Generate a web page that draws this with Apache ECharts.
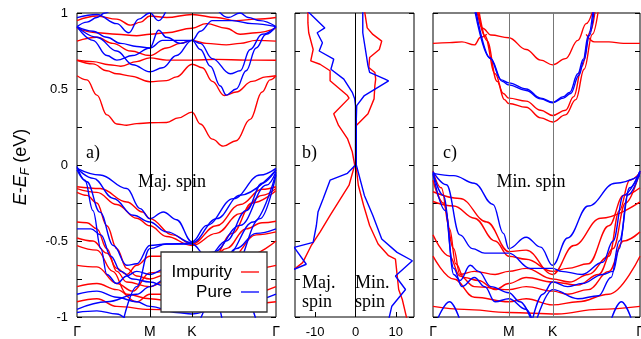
<!DOCTYPE html>
<html>
<head>
<meta charset="utf-8">
<script src="https://cdn.jsdelivr.net/npm/echarts@6/dist/echarts.min.js"></script>
<style>
  html, body {margin: 0; padding: 0; background: #fff;}
  #chart {width: 641px; height: 339px;}
</style>
</head>
<body>
<div id="chart"></div>
<script>
const kLabels = ['Γ', 'M', 'K', 'Γ'];
const kPos = [0, 0.366, 0.578, 1];
const dosTicks = [-10, 0, 10];

// panel a, majority spin, impurity (red)
const majImpurity = [
  [[0,0.587],[0.05,0.56],[0.1,0.46],[0.15,0.33],[0.2,0.27],[0.25,0.262],[0.3,0.272],[0.366,0.278],[0.45,0.28],[0.51,0.31],[0.578,0.348],[0.62,0.27],[0.68,0.17],[0.735,0.124],[0.8,0.16],[0.87,0.3],[0.93,0.48],[0.97,0.56],[1,0.587]],
  [[0,0.689],[0.08,0.665],[0.15,0.62],[0.2,0.6],[0.27,0.585],[0.366,0.548],[0.45,0.555],[0.5,0.58],[0.578,0.663],[0.63,0.64],[0.68,0.55],[0.74,0.457],[0.8,0.48],[0.88,0.55],[0.95,0.58],[1,0.587]],
  [[0,0.689],[0.08,0.68],[0.16,0.66],[0.22,0.65],[0.3,0.68],[0.366,0.705],[0.45,0.69],[0.578,0.69],[0.7,0.695],[0.85,0.69],[1,0.689]],
  [[0,0.815],[0.1,0.84],[0.18,0.8],[0.27,0.75],[0.366,0.72],[0.45,0.77],[0.52,0.8],[0.578,0.82],[0.65,0.8],[0.75,0.79],[0.82,0.8],[0.9,0.82],[1,0.815]],
  [[0,0.9],[0.1,0.87],[0.2,0.86],[0.3,0.85],[0.366,0.86],[0.45,0.87],[0.578,0.9],[0.65,0.93],[0.75,0.9],[0.82,0.86],[0.9,0.87],[1,0.9]],
  [[0,0.95],[0.1,0.98],[0.2,0.96],[0.27,0.92],[0.32,0.94],[0.366,0.98],[0.45,0.97],[0.578,0.99],[0.7,0.97],[0.8,0.95],[0.9,0.96],[1,0.97]],
  [[0,-0.143],[0.116,-0.155],[0.25,-0.243],[0.33,-0.309],[0.366,-0.353],[0.48,-0.46],[0.578,-0.52],[0.7,-0.4],[0.82,-0.26],[0.93,-0.16],[1,-0.143]],
  [[0,-0.155],[0.1,-0.18],[0.2,-0.26],[0.3,-0.35],[0.366,-0.4],[0.45,-0.47],[0.578,-0.53],[0.7,-0.45],[0.82,-0.32],[0.93,-0.2],[1,-0.155]],
  [[0,-0.18],[0.05,-0.2],[0.1,-0.25],[0.15,-0.4],[0.2,-0.55],[0.25,-0.68],[0.3,-0.73],[0.366,-0.75],[0.45,-0.72],[0.578,-0.64],[0.68,-0.62],[0.78,-0.45],[0.88,-0.25],[1,-0.17]],
  [[0,-0.375],[0.05,-0.38],[0.1,-0.42],[0.15,-0.55],[0.2,-0.7],[0.25,-0.77],[0.366,-0.8],[0.45,-0.76],[0.578,-0.72],[0.65,-0.68],[0.75,-0.55],[0.85,-0.42],[0.93,-0.38],[1,-0.37]],
  [[0,-0.48],[0.08,-0.5],[0.15,-0.58],[0.2,-0.68],[0.25,-0.72],[0.3,-0.66],[0.366,-0.6],[0.45,-0.6],[0.578,-0.62],[0.68,-0.7],[0.78,-0.6],[0.9,-0.46],[1,-0.44]],
  [[0,-0.53],[0.1,-0.56],[0.18,-0.7],[0.25,-0.85],[0.366,-0.88],[0.5,-0.9],[0.578,-0.9],[0.7,-0.8],[0.85,-0.6],[1,-0.5]],
  [[0,-0.9],[0.1,-0.88],[0.2,-0.93],[0.366,-0.95],[0.578,-0.96],[0.8,-0.92],[1,-0.9]],
  [[0,-0.66],[0.1,-0.67],[0.2,-0.78],[0.28,-0.83],[0.366,-0.71],[0.45,-0.7],[0.578,-0.68],[0.7,-0.82],[0.8,-0.78],[0.9,-0.68],[1,-0.66]],
  [[0,-0.8],[0.1,-0.78],[0.2,-0.82],[0.3,-0.9],[0.366,-0.85],[0.5,-0.85],[0.578,-0.86],[0.7,-0.88],[0.85,-0.85],[1,-0.8]]
];

// panel a, majority spin, pure (blue)
const majPure = [
  [[0,0.91],[0.08,0.82],[0.15,0.72],[0.2,0.69],[0.28,0.72],[0.366,0.77],[0.43,0.82],[0.5,0.82],[0.578,0.82],[0.62,0.76],[0.67,0.65],[0.72,0.52],[0.75,0.46],[0.8,0.5],[0.85,0.62],[0.9,0.77],[0.95,0.86],[1,0.91]],
  [[0,0.91],[0.1,0.84],[0.2,0.75],[0.28,0.66],[0.366,0.613],[0.43,0.64],[0.5,0.72],[0.578,0.82],[0.62,0.8],[0.68,0.7],[0.77,0.6],[0.82,0.62],[0.87,0.76],[0.93,0.86],[1,0.91]],
  [[0,0.91],[0.05,0.94],[0.1,0.97],[0.14,1.0],[0.18,1.03]],
  [[0,0.91],[0.08,0.88],[0.15,0.84],[0.22,0.8],[0.3,0.78],[0.366,0.77],[0.41,0.887],[0.45,0.84],[0.52,0.8],[0.578,0.82],[0.62,0.88],[0.68,0.95],[0.78,0.95],[0.88,0.93],[1,0.91]],
  [[0,0.97],[0.1,0.99],[0.2,0.93],[0.26,0.87],[0.31,0.96],[0.366,1.0],[0.41,0.95],[0.45,1.02]],
  [[0.7,1.03],[0.76,0.97],[0.82,1.0],[0.86,0.97],[0.92,0.95],[1,0.91]],
  [[0,-0.022],[0.116,-0.066],[0.25,-0.155],[0.317,-0.287],[0.366,-0.353],[0.434,-0.309],[0.5,-0.36],[0.578,-0.505],[0.652,-0.397],[0.786,-0.221],[0.92,-0.066],[1,-0.022]],
  [[0,-0.022],[0.082,-0.088],[0.183,-0.22],[0.283,-0.331],[0.366,-0.375],[0.45,-0.44],[0.578,-0.512],[0.702,-0.353],[0.82,-0.199],[1,-0.033]],
  [[0,-0.033],[0.05,-0.11],[0.115,-0.31],[0.183,-0.53],[0.25,-0.66],[0.3,-0.65],[0.366,-0.53],[0.45,-0.52],[0.578,-0.52],[0.65,-0.6],[0.75,-0.75],[0.85,-0.88],[0.9,-1.02]],
  [[0,-0.01],[0.04,-0.1],[0.08,-0.3],[0.12,-0.55],[0.15,-0.72],[0.2,-0.78],[0.25,-0.73],[0.3,-0.7],[0.366,-0.72],[0.45,-0.68],[0.578,-0.6],[0.66,-0.6],[0.75,-0.5],[0.85,-0.3],[0.93,-0.12],[1,-0.03]],
  [[0.45,-0.6],[0.5,-0.58],[0.578,-0.596],[0.685,-0.574],[0.82,-0.397],[0.953,-0.132],[1,-0.044]],
  [[0.45,-0.75],[0.6,-0.684],[0.752,-0.596],[0.886,-0.375],[1,-0.055]],
  [[0.618,-1.02],[0.786,-0.684],[0.92,-0.353],[1,-0.066]],
  [[0,-0.42],[0.07,-0.42],[0.12,-0.46],[0.17,-0.6],[0.22,-0.7],[0.28,-0.75],[0.366,-0.77],[0.45,-0.8],[0.578,-0.78],[0.7,-0.72],[0.8,-0.55],[0.9,-0.45],[1,-0.42]],
  [[0,-0.85],[0.1,-0.83],[0.2,-0.87],[0.3,-0.9],[0.366,-0.93],[0.5,-0.97],[0.578,-0.98],[0.7,-0.95],[0.85,-0.9],[1,-0.85]],
  [[0,-0.95],[0.15,-0.9],[0.3,-0.85],[0.366,-0.8],[0.45,-0.75],[0.578,-0.72],[0.65,-0.78],[0.7,-0.9],[0.73,-1.02]],
  [[0.233,-1.02],[0.3,-0.8],[0.366,-0.55],[0.45,-0.52],[0.578,-0.515]],
  [[0,-0.97],[0.1,-0.96],[0.2,-0.98],[0.25,-1.02]]
];

// panel b, DOS: [states, energy]
const dosMajImpurity = [[-11.8,1.02],[-11.8,0.935],[-11.6,0.87],[-10.5,0.76],[-11.1,0.685],[-8.8,0.663],[-6.3,0.62],[-6.3,0.554],[-2.0,0.457],[-1.6,0.44],[-5.4,0.337],[-4.2,0.26],[-2.0,0.174],[-0.8,0.087],[-0.2,0],[-1.6,-0.133],[-3.7,-0.221],[-6.3,-0.332],[-8.8,-0.442],[-11.0,-0.531],[-13.1,-0.642],[-15.2,-0.686],[-17,-0.72]];
const dosMajPure = [[-12.2,1.02],[-7.6,0.902],[-9.5,0.87],[-8.2,0.804],[-9.0,0.75],[-5.4,0.696],[-6.1,0.63],[-2.9,0.565],[-0.8,0.478],[-0.2,0.435],[0,0.391],[0,0],[-2.0,-0.055],[-6.3,-0.1],[-8.0,-0.221],[-9.3,-0.31],[-9.7,-0.398],[-10.5,-0.509],[-15.2,-0.542],[-12.2,-0.653],[-15.2,-0.686],[-17,-0.7]];
const dosMinImpurity = [[2.2,1.02],[2.9,0.902],[4.3,0.859],[6.5,0.815],[5.9,0.76],[3.5,0.707],[3.3,0.641],[4.8,0.609],[5.0,0.565],[4.8,0.522],[4.6,0.435],[3.1,0.337],[0.2,0.26],[0.1,0],[0.7,-0.133],[2.0,-0.265],[3.5,-0.398],[5.6,-0.52],[8.2,-0.597],[9.9,-0.619],[10.7,-0.819],[11.6,-0.885],[12.8,-1.02]];
const dosMinPure = [[1.8,1.02],[1.8,0.87],[3.1,0.652],[3.5,0.609],[7.3,0.565],[8.2,0.554],[2.2,0.457],[0.3,0.391],[0.2,0.304],[0.2,0],[2.2,-0.2],[4.3,-0.332],[6.5,-0.487],[10.3,-0.575],[14.1,-0.63],[9.9,-0.73],[12.4,-0.819],[9.0,-0.929],[8.2,-1.02]];

// panel c, minority spin, impurity (red)
const minImpurity = [
  [[0,0.8],[0.08,0.805],[0.14,0.81],[0.2,0.79],[0.23,0.84],[0.26,0.86]],
  [[0.21,1.03],[0.24,0.9],[0.28,0.855],[0.366,0.837],[0.45,0.76],[0.52,0.69],[0.578,0.659],[0.64,0.7],[0.7,0.82],[0.74,0.93],[0.775,1.03]],
  [[0.74,0.86],[0.78,0.81],[0.85,0.81],[0.92,0.8],[1,0.8]],
  [[0.215,1.03],[0.25,0.85],[0.3,0.6],[0.34,0.47],[0.366,0.44],[0.45,0.42],[0.52,0.36],[0.578,0.326],[0.64,0.36],[0.68,0.45],[0.72,0.65],[0.76,0.88],[0.785,1.03]],
  [[0.22,1.03],[0.26,0.82],[0.31,0.55],[0.345,0.43],[0.366,0.405],[0.45,0.38],[0.52,0.31],[0.578,0.283],[0.64,0.33],[0.69,0.43],[0.73,0.63],[0.77,0.86],[0.8,1.03]],
  [[0,-0.176],[0.13,-0.22],[0.26,-0.375],[0.366,-0.57],[0.45,-0.56],[0.578,-0.72],[0.68,-0.53],[0.81,-0.35],[1,-0.243]],
  [[0,-0.24],[0.1,-0.27],[0.2,-0.35],[0.3,-0.5],[0.366,-0.6],[0.45,-0.62],[0.578,-0.7],[0.65,-0.68],[0.75,-0.65],[0.85,-0.4],[0.92,-0.2],[1,-0.15]],
  [[0,-0.1],[0.05,-0.25],[0.1,-0.55],[0.13,-0.72],[0.2,-0.7],[0.3,-0.72],[0.366,-0.7],[0.45,-0.68],[0.578,-0.75],[0.66,-0.77],[0.75,-0.72],[0.85,-0.6],[0.9,-0.3],[0.95,-0.1],[1,-0.05]],
  [[0,-0.46],[0.08,-0.6],[0.13,-0.73],[0.2,-0.8],[0.366,-0.82],[0.45,-0.8],[0.578,-0.83],[0.65,-0.85],[0.75,-0.82],[0.85,-0.7],[0.92,-0.5],[1,-0.44]],
  [[0,-0.6],[0.1,-0.75],[0.2,-0.87],[0.366,-0.9],[0.45,-0.88],[0.578,-0.92],[0.7,-0.9],[0.85,-0.85],[1,-0.6]],
  [[0,-0.93],[0.15,-0.95],[0.366,-0.97],[0.6,-0.98],[0.8,-0.95],[1,-0.93]],
  [[0,-0.04],[0.04,-0.15],[0.08,-0.42],[0.11,-0.65],[0.15,-0.74],[0.22,-0.76],[0.3,-0.82],[0.366,-0.78],[0.45,-0.74],[0.578,-0.77],[0.7,-0.79],[0.8,-0.72],[0.87,-0.55],[0.93,-0.25],[1,-0.04]]
];

// panel c, minority spin, pure (blue)
const minPure = [
  [[0.2,1.03],[0.274,0.707],[0.33,0.56],[0.366,0.54],[0.45,0.5],[0.52,0.44],[0.578,0.413],[0.63,0.45],[0.66,0.478],[0.7,0.6],[0.726,0.696],[0.75,0.85],[0.774,1.03]],
  [[0.205,1.03],[0.278,0.7],[0.335,0.55],[0.366,0.527],[0.45,0.49],[0.52,0.435],[0.578,0.41],[0.63,0.44],[0.665,0.47],[0.705,0.59],[0.73,0.69],[0.755,0.85],[0.779,1.03]],
  [[0,-0.055],[0.1,-0.07],[0.2,-0.12],[0.29,-0.26],[0.34,-0.45],[0.366,-0.55],[0.45,-0.475],[0.52,-0.54],[0.578,-0.66],[0.65,-0.48],[0.75,-0.27],[0.88,-0.12],[1,-0.07]],
  [[0,-0.044],[0.065,-0.13],[0.13,-0.46],[0.19,-0.55],[0.25,-0.58],[0.366,-0.58],[0.47,-0.68],[0.578,-0.68],[0.62,-0.7],[0.72,-0.72],[0.82,-0.64],[0.87,-0.5],[0.92,-0.2],[1,-0.04]],
  [[0,-0.05],[0.05,-0.2],[0.1,-0.68],[0.14,-0.8],[0.2,-0.74],[0.25,-0.8],[0.3,-0.9],[0.366,-0.88],[0.45,-0.95],[0.48,-1.02]],
  [[0,-0.06],[0.06,-0.3],[0.1,-0.72],[0.13,-0.76],[0.18,-0.66],[0.22,-0.7],[0.28,-0.8],[0.366,-0.84],[0.42,-0.9],[0.475,-1.02]],
  [[0.48,-1.02],[0.53,-0.85],[0.578,-0.77],[0.65,-0.8],[0.72,-0.78],[0.82,-0.72],[0.87,-0.7],[0.9,-0.55],[0.94,-0.2],[1,-0.05]],
  [[0.5,-1.02],[0.578,-0.82],[0.7,-0.88],[0.8,-0.86],[0.86,-0.74],[0.9,-0.5],[0.95,-0.15],[1,-0.04]],
  [[0.02,-1.02],[0.08,-0.9],[0.13,-1.02]],
  [[0.86,-1.02],[0.91,-0.9],[0.96,-1.02]]
];

const red = '#ff0000';
const blue = '#0000ff';
const grids = [
  {left: 77, top: 13, width: 199, height: 304},
  {left: 295, top: 13, width: 119, height: 304},
  {left: 433, top: 13, width: 207, height: 304}
];

const chart = echarts.init(document.getElementById('chart'), null, {renderer: 'canvas'});

const yTickFmt = v => (Math.abs(v * 2 - Math.round(v * 2)) < 1e-6 ? String(v) : '');
const kFmt = v => {
  let best = 0;
  kPos.forEach((p, i) => { if (Math.abs(p - v) < Math.abs(kPos[best] - v)) best = i; });
  return kLabels[best];
};

const xAxes = [0, 1, 2].map(g => {
  const isDos = g === 1;
  return {
    type: 'value', gridIndex: g, position: 'bottom',
    min: isDos ? -15 : 0, max: isDos ? 14.5 : 1,
    axisLine: {show: false, onZero: false},
    splitLine: {show: false},
    axisTick: isDos
      ? {show: true, inside: true, length: 5, customValues: dosTicks, lineStyle: {color: '#000'}}
      : {show: false},
    axisLabel: isDos
      ? {customValues: dosTicks, color: '#000', fontFamily: 'Liberation Sans', fontSize: 13, margin: 9}
      : {customValues: kPos, formatter: kFmt, color: '#000', fontFamily: 'Liberation Sans', fontSize: 14, margin: 8}
  };
});

const yAxes = [];
[0, 1, 2].forEach(g => {
  ['left', 'right'].forEach(side => {
    yAxes.push({
      type: 'value', gridIndex: g, position: side,
      min: -1, max: 1, interval: 0.25,
      axisLine: {show: false, onZero: false},
      splitLine: {show: false},
      axisTick: {show: true, inside: true, length: 5, lineStyle: {color: '#000'}},
      axisLabel: {
        show: g === 0 && side === 'left',
        formatter: yTickFmt, color: '#000',
        fontFamily: 'Liberation Sans', fontSize: 13, margin: 9
      }
    });
  });
});

const series = [];
function addBands(bands, color, g) {
  bands.forEach(b => {
    series.push({
      type: 'line', xAxisIndex: g, yAxisIndex: g * 2, data: b,
      showSymbol: false, smooth: 0.4, smoothMonotone: 'x', silent: true,
      lineStyle: {color: color, width: 1.4}
    });
  });
}
function addDos(pts, color) {
  series.push({
    type: 'line', xAxisIndex: 1, yAxisIndex: 2, data: pts,
    showSymbol: false, silent: true,
    lineStyle: {color: color, width: 1.4}
  });
}
function guide(g, xs, color) {
  series.push({
    type: 'line', xAxisIndex: g, yAxisIndex: g * 2, data: [], silent: true,
    markLine: {
      silent: true, symbol: 'none', label: {show: false},
      lineStyle: {color: color, width: 1, type: 'solid'},
      data: xs.map(x => ({xAxis: x}))
    }
  });
}

guide(0, [kPos[1], kPos[2]], '#000');
guide(1, [0], '#000');
guide(2, [kPos[1], kPos[2]], '#777');
addBands(majImpurity, red, 0);
addBands(majPure, blue, 0);
addDos(dosMajImpurity, red);
addDos(dosMinImpurity, red);
addDos(dosMajPure, blue);
addDos(dosMinPure, blue);
addBands(minImpurity, red, 2);
addBands(minPure, blue, 2);

const serif = {fontFamily: 'Liberation Serif', fontSize: 18, fill: '#000'};
const txt = (text, x, y, align) => ({
  type: 'text', x: x, y: y, z: 50,
  style: Object.assign({text: text, align: align || 'left', verticalAlign: 'middle'}, serif)
});

chart.setOption({
  animation: false,
  backgroundColor: '#fff',
  grid: grids.map(g => Object.assign({
    show: true, borderColor: '#000', borderWidth: 1, backgroundColor: 'transparent',
    containLabel: false, outerBoundsMode: 'none'
  }, g)),
  xAxis: xAxes,
  yAxis: yAxes,
  series: series,
  graphic: [
    {
      type: 'text', x: 21, y: 167, rotation: Math.PI / 2, z: 50,
      style: {
        text: '{i|E}-{i|E}{s|F} (eV)',
        align: 'center', verticalAlign: 'middle',
        fontFamily: 'Liberation Sans', fontSize: 18, fill: '#000',
        rich: {
          i: {fontStyle: 'italic', fontFamily: 'Liberation Sans', fontSize: 18},
          s: {fontStyle: 'italic', fontFamily: 'Liberation Sans', fontSize: 12, padding: [9, 0, 0, 0]}
        }
      }
    },
    txt('a)', 86, 153),
    txt('Maj. spin', 172, 182, 'center'),
    txt('b)', 302, 153),
    txt('Maj.', 302, 283),
    txt('spin', 302, 302),
    txt('Min.', 355, 283),
    txt('spin', 355, 302),
    txt('c)', 443, 153),
    txt('Min. spin', 531, 182, 'center'),
    {
      type: 'rect', z: 60,
      shape: {x: 161, y: 252, width: 106, height: 60},
      style: {fill: '#fff', stroke: '#333', lineWidth: 1.3}
    },
    {
      type: 'text', x: 232, y: 272, z: 61,
      style: {text: 'Impurity', align: 'right', verticalAlign: 'middle', fontFamily: 'Liberation Sans', fontSize: 17, fill: '#000'}
    },
    {
      type: 'text', x: 232, y: 292, z: 61,
      style: {text: 'Pure', align: 'right', verticalAlign: 'middle', fontFamily: 'Liberation Sans', fontSize: 17, fill: '#000'}
    },
    {type: 'line', z: 61, shape: {x1: 241, y1: 272, x2: 259, y2: 272}, style: {stroke: red, lineWidth: 1.3}},
    {type: 'line', z: 61, shape: {x1: 241, y1: 292, x2: 259, y2: 292}, style: {stroke: blue, lineWidth: 1.3}}
  ]
});
</script>
</body>
</html>
